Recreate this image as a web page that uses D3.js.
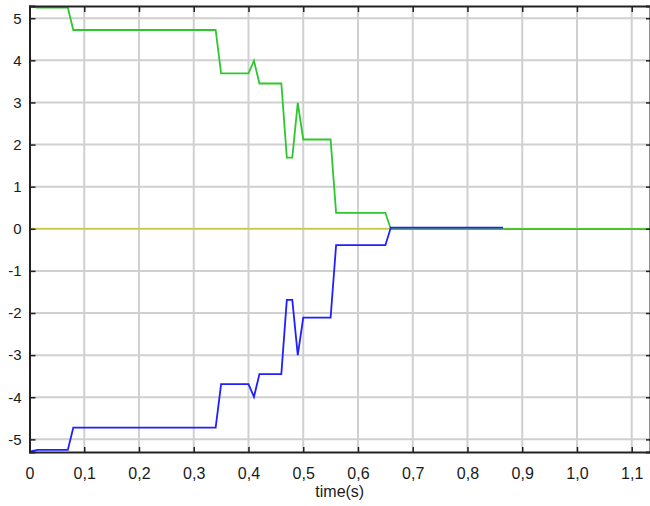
<!DOCTYPE html>
<html>
<head>
<meta charset="utf-8">
<script src="https://cdn.jsdelivr.net/npm/d3@7"></script>
<style>
  html, body { margin: 0; padding: 0; background: #ffffff; }
  svg { display: block; }
  text { font-family: "Liberation Sans", Arial, sans-serif; fill: #1a1a1a; }
</style>
</head>
<body>
<svg id="chart" width="650" height="506"></svg>
<script>
// ---- data ----
const xTicks = [0, 0.1, 0.2, 0.3, 0.4, 0.5, 0.6, 0.7, 0.8, 0.9, 1.0, 1.1];
const yTicks = [-5, -4, -3, -2, -1, 0, 1, 2, 3, 4, 5];
const xLabel = "time(s)";

const greenTime  = [0, 0.015, 0.07, 0.08, 0.34, 0.35, 0.40, 0.41, 0.42, 0.46, 0.47, 0.48, 0.49, 0.50, 0.55, 0.56, 0.65, 0.66, 1.135];
const greenValue = [5.28, 5.25, 5.25, 4.72, 4.72, 3.69, 3.69, 3.99, 3.45, 3.45, 1.69, 1.69, 2.99, 2.12, 2.12, 0.38, 0.38, -0.01, -0.01];

const blueTime  = [0, 0.015, 0.07, 0.08, 0.34, 0.35, 0.40, 0.41, 0.42, 0.46, 0.47, 0.48, 0.49, 0.50, 0.55, 0.56, 0.65, 0.66, 0.865];
const blueValue = [-5.29, -5.25, -5.25, -4.72, -4.72, -3.69, -3.69, -3.99, -3.45, -3.45, -1.69, -1.69, -3.0, -2.11, -2.11, -0.39, -0.39, 0.03, 0.03];

const yellowTime  = [0, 1.135];
const yellowValue = [0, 0];

// ---- layout ----
(function () {
const svg = d3.select("#chart");
const mLeft = 29.5, mRight = 651, mTop = 6, mBottom = 452;

const x = d3.scaleLinear().domain([0, 1.1352]).range([mLeft, mRight]);
const y = d3.scaleLinear().domain([-5.3, 5.29]).range([mBottom, mTop]);

// grid
const grid = svg.append("g");
grid.selectAll("line.vx").data(xTicks.filter(d => d > 0)).join("line")
  .attr("class", "vx")
  .attr("x1", d => x(d)).attr("x2", d => x(d))
  .attr("y1", mTop).attr("y2", mBottom)
  .attr("stroke", "#d0d0d0").attr("stroke-width", 2);
grid.selectAll("line.hy").data(yTicks).join("line")
  .attr("class", "hy")
  .attr("x1", mLeft).attr("x2", mRight)
  .attr("y1", d => y(d)).attr("y2", d => y(d))
  .attr("stroke", "#d0d0d0").attr("stroke-width", 2);

// series
const line = d3.line().x(d => x(d[0])).y(d => y(d[1]));
function series(ts, vs, color, w) {
  svg.append("path")
    .datum(ts.map((t, i) => [t, vs[i]]))
    .attr("fill", "none")
    .attr("stroke", color)
    .attr("stroke-width", w)
    .attr("d", line);
}
series(yellowTime, yellowValue, "#c8c84a", 1.6);
series(greenTime, greenValue, "#2ec82e", 1.8);
series(blueTime, blueValue, "#1f1fff", 1.8);

// axes
const fmtX = d => d === 0 ? "0" : d3.format(".1f")(d).replace(".", ",");
const fmtY = d => String(d);

const axL = svg.append("g").attr("transform", `translate(${mLeft},0)`)
  .call(d3.axisLeft(y).tickValues(yTicks).tickSize(-6).tickPadding(8).tickFormat(fmtY));
const axB = svg.append("g").attr("transform", `translate(0,${mBottom})`)
  .call(d3.axisBottom(x).tickValues(xTicks).tickSize(-5).tickPadding(16).tickFormat(fmtX));
const axT = svg.append("g").attr("transform", `translate(0,${mTop})`)
  .call(d3.axisTop(x).tickValues(xTicks).tickSize(-6).tickFormat(""));
const axR = svg.append("g").attr("transform", `translate(650,0)`)
  .call(d3.axisRight(y).tickValues(yTicks).tickSize(-4).tickFormat(""));

[axL, axB, axT, axR].forEach(a => {
  a.select(".domain").attr("stroke", "#222").attr("stroke-width", 2);
  a.selectAll(".tick line").attr("stroke", "#222").attr("stroke-width", 1.5);
  a.selectAll("text").attr("font-family", "Liberation Sans, Arial, sans-serif").attr("fill", "#1a1a1a");
});
axL.selectAll("text").attr("font-size", 15);
axB.selectAll("text").attr("font-size", 16);

svg.append("text")
  .attr("x", (mLeft + 650) / 2)
  .attr("y", 497)
  .attr("text-anchor", "middle")
  .attr("font-size", 16)
  .text(xLabel);
})();
</script>
</body>
</html>
